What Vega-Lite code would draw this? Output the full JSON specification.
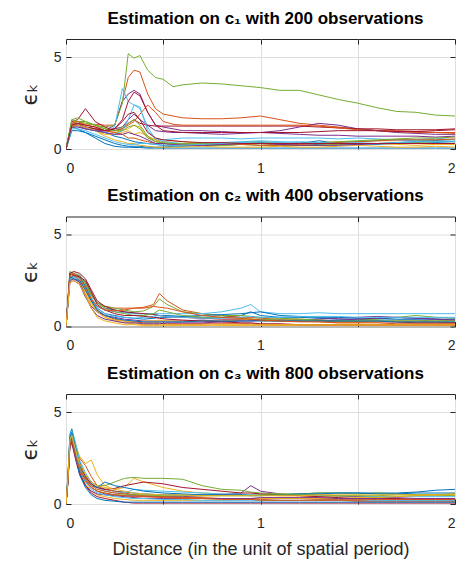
{
"$schema": "https://vega.github.io/schema/vega-lite/v6.json",
"padding": {"left": 18, "top": 9, "right": 0, "bottom": 0},
"config": {
  "font": "Liberation Sans",
  "view": {"stroke": "#262626", "strokeWidth": 1},
  "axis": {"labelFontSize": 14, "labelColor": "#262626", "tickColor": "#262626", "tickSize": -5, "domain": false, "gridColor": "#dedede", "gridOpacity": 1, "labelPadding": 10, "titleColor": "#262626", "titleFontWeight": "normal", "labelFont": "Liberation Sans"},
  "axisX": {"labelPadding": 17},
  "title": {"fontSize": 17, "fontWeight": "bold", "color": "#000000", "offset": 11, "frame": "group", "anchor": "middle", "dx": 5, "font": "Liberation Sans"}
},
"spacing": 67.5,
"bounds": "flush",
"datasets": {
"p1": [
{"s":"s01","x":[0,0.03,0.06,0.1,0.15,0.2,0.25,0.29,0.32,0.35,0.38,0.42,0.46,0.5,0.55,0.6,0.7,0.8,0.9,1,1.1,1.2,1.3,1.4,1.5,1.6,1.7,1.8,1.9,2],"y":[0,1.3,1.3,1.2,1.1,0.9,0.7,0.6,0.5,0.4,0.35,0.3,0.25,0.2,0.2,0.25,0.3,0.2,0.25,0.3,0.25,0.2,0.25,0.3,0.3,0.25,0.3,0.3,0.35,0.3]},
{"s":"s02","x":[0,0.03,0.06,0.1,0.15,0.2,0.25,0.29,0.32,0.35,0.38,0.42,0.46,0.5,0.55,0.6,0.7,0.8,0.9,1,1.1,1.2,1.3,1.4,1.5,1.6,1.7,1.8,1.9,2],"y":[0,1.4,1.4,1.3,1.35,1.3,1.3,2.6,3.9,4.3,4.2,3.0,2.2,1.9,1.8,1.7,1.65,1.65,1.7,1.8,1.6,1.4,1.3,1.2,1.1,1.0,1.0,0.95,0.9,0.9]},
{"s":"s03","x":[0,0.03,0.06,0.1,0.15,0.2,0.25,0.29,0.32,0.35,0.38,0.42,0.46,0.5,0.55,0.6,0.7,0.8,0.9,1,1.1,1.2,1.3,1.4,1.5,1.6,1.7,1.8,1.9,2],"y":[0,1.5,1.5,1.4,1.3,1.0,0.9,1.0,1.1,1.3,1.2,0.6,0.5,0.4,0.45,0.4,0.3,0.3,0.35,0.3,0.3,0.35,0.3,0.4,0.4,0.45,0.45,0.5,0.5,0.5]},
{"s":"s04","x":[0,0.03,0.06,0.1,0.15,0.2,0.25,0.29,0.32,0.35,0.38,0.42,0.46,0.5,0.55,0.6,0.7,0.8,0.9,1,1.1,1.2,1.3,1.4,1.5,1.6,1.7,1.8,1.9,2],"y":[0,1.3,1.4,1.2,1.1,1.0,1.3,2.6,3.0,3.2,3.0,2.0,1.3,1.2,1.1,1.0,1.0,0.95,0.9,0.9,1.0,1.2,1.4,1.3,1.1,1.0,0.9,0.85,0.8,0.8]},
{"s":"s05","x":[0,0.03,0.06,0.1,0.15,0.2,0.25,0.29,0.32,0.35,0.38,0.42,0.46,0.5,0.55,0.6,0.7,0.8,0.9,1,1.1,1.2,1.3,1.4,1.5,1.6,1.7,1.8,1.9,2],"y":[0,1.4,1.5,1.5,1.3,1.2,1.3,2.5,5.2,4.95,5.1,4.3,3.9,3.8,3.4,3.5,3.6,3.55,3.45,3.35,3.2,3.2,2.95,2.7,2.5,2.25,2.05,2.0,1.85,1.8]},
{"s":"s06","x":[0,0.03,0.06,0.1,0.15,0.2,0.25,0.29,0.32,0.35,0.38,0.42,0.46,0.5,0.55,0.6,0.7,0.8,0.9,1,1.1,1.2,1.3,1.4,1.5,1.6,1.7,1.8,1.9,2],"y":[0,1.3,1.2,1.1,1.0,0.9,1.2,3.3,2.6,2.4,2.2,1.2,0.5,0.5,0.55,0.6,0.6,0.6,0.55,0.6,0.6,0.6,0.6,0.55,0.6,0.55,0.5,0.5,0.6,0.5]},
{"s":"s07","x":[0,0.03,0.06,0.1,0.15,0.2,0.25,0.29,0.32,0.35,0.38,0.42,0.46,0.5,0.55,0.6,0.7,0.8,0.9,1,1.1,1.2,1.3,1.4,1.5,1.6,1.7,1.8,1.9,2],"y":[0,1.5,1.6,2.2,1.5,1.2,1.0,1.1,1.4,1.6,1.4,1.3,1.25,1.25,1.25,1.25,1.25,1.25,1.25,1.25,1.25,1.25,1.2,1.15,1.1,1.1,1.05,1.05,1.05,1.1]},
{"s":"s08","x":[0,0.03,0.06,0.1,0.15,0.2,0.25,0.29,0.32,0.35,0.38,0.42,0.46,0.5,0.55,0.6,0.7,0.8,0.9,1,1.1,1.2,1.3,1.4,1.5,1.6,1.7,1.8,1.9,2],"y":[0,1.2,1.1,0.9,0.6,0.3,0.15,0.1,0.1,0.08,0.08,0.05,0.05,0.05,0.05,0.05,0.05,0.05,0.05,0.05,0.05,0.05,0.05,0.05,0.05,0.05,0.05,0.05,0.05,0.05]},
{"s":"s09","x":[0,0.03,0.06,0.1,0.15,0.2,0.25,0.29,0.32,0.35,0.38,0.42,0.46,0.5,0.55,0.6,0.7,0.8,0.9,1,1.1,1.2,1.3,1.4,1.5,1.6,1.7,1.8,1.9,2],"y":[0,1.3,1.4,1.2,1.1,1.0,1.0,1.1,1.3,1.5,1.9,2.4,2.0,1.5,1.35,1.3,1.3,1.3,1.3,1.3,1.3,1.3,1.25,1.15,1.05,1.0,0.95,0.9,0.9,0.85]},
{"s":"s10","x":[0,0.03,0.06,0.1,0.15,0.2,0.25,0.29,0.32,0.35,0.38,0.42,0.46,0.5,0.55,0.6,0.7,0.8,0.9,1,1.1,1.2,1.3,1.4,1.5,1.6,1.7,1.8,1.9,2],"y":[0,1.2,1.3,1.2,1.0,0.8,0.8,0.9,1.0,0.8,0.9,0.7,0.5,0.3,0.25,0.2,0.2,0.2,0.25,0.3,0.2,0.2,0.2,0.25,0.3,0.3,0.25,0.2,0.25,0.25]},
{"s":"s11","x":[0,0.03,0.06,0.1,0.15,0.2,0.25,0.29,0.32,0.35,0.38,0.42,0.46,0.5,0.55,0.6,0.7,0.8,0.9,1,1.1,1.2,1.3,1.4,1.5,1.6,1.7,1.8,1.9,2],"y":[0,1.3,1.3,1.1,1.0,1.0,1.1,1.2,1.6,1.9,1.6,1.3,1.0,0.95,0.9,0.9,0.85,0.8,0.85,0.9,0.85,0.8,0.75,0.75,0.7,0.7,0.7,0.7,0.65,0.7]},
{"s":"s12","x":[0,0.03,0.06,0.1,0.15,0.2,0.25,0.29,0.32,0.35,0.38,0.42,0.46,0.5,0.55,0.6,0.7,0.8,0.9,1,1.1,1.2,1.3,1.4,1.5,1.6,1.7,1.8,1.9,2],"y":[0,1.6,1.5,1.4,1.3,1.1,1.0,1.2,1.4,1.6,1.3,0.7,0.4,0.3,0.3,0.25,0.2,0.2,0.25,0.2,0.2,0.2,0.2,0.25,0.3,0.3,0.3,0.35,0.4,0.4]},
{"s":"s13","x":[0,0.03,0.06,0.1,0.15,0.2,0.25,0.29,0.32,0.35,0.38,0.42,0.46,0.5,0.55,0.6,0.7,0.8,0.9,1,1.1,1.2,1.3,1.4,1.5,1.6,1.7,1.8,1.9,2],"y":[0,1.4,1.3,1.2,1.0,0.9,0.8,1.0,1.6,2.4,2.3,1.0,0.6,0.4,0.35,0.3,0.3,0.35,0.4,0.45,0.4,0.35,0.3,0.35,0.4,0.45,0.5,0.45,0.5,0.5]},
{"s":"s14","x":[0,0.03,0.06,0.1,0.15,0.2,0.25,0.29,0.32,0.35,0.38,0.42,0.46,0.5,0.55,0.6,0.7,0.8,0.9,1,1.1,1.2,1.3,1.4,1.5,1.6,1.7,1.8,1.9,2],"y":[0,1.3,1.3,1.2,1.1,1.0,1.1,1.6,2.6,3.1,2.9,2.0,1.3,1.0,0.95,0.9,0.9,0.9,0.9,0.9,0.9,0.9,0.95,1.0,1.0,1.0,0.95,0.95,1.0,1.05]},
{"s":"s15","x":[0,0.03,0.06,0.1,0.15,0.2,0.25,0.29,0.32,0.35,0.38,0.42,0.46,0.5,0.55,0.6,0.7,0.8,0.9,1,1.1,1.2,1.3,1.4,1.5,1.6,1.7,1.8,1.9,2],"y":[0,1.0,1.0,0.9,0.7,0.5,0.3,0.2,0.15,0.15,0.15,0.1,0.1,0.1,0.15,0.15,0.2,0.25,0.3,0.35,0.3,0.3,0.45,0.3,0.25,0.3,0.35,0.4,0.45,0.4]},
{"s":"s16","x":[0,0.03,0.06,0.1,0.15,0.2,0.25,0.29,0.32,0.35,0.38,0.42,0.46,0.5,0.55,0.6,0.7,0.8,0.9,1,1.1,1.2,1.3,1.4,1.5,1.6,1.7,1.8,1.9,2],"y":[0,1.4,1.5,1.3,1.2,1.0,0.9,0.8,0.6,0.6,0.5,0.4,0.3,0.3,0.25,0.2,0.2,0.3,0.25,0.2,0.2,0.25,0.3,0.35,0.4,0.45,0.5,0.5,0.5,0.55]},
{"s":"s17","x":[0,0.03,0.06,0.1,0.15,0.2,0.25,0.29,0.32,0.35,0.38,0.42,0.46,0.5,0.55,0.6,0.7,0.8,0.9,1,1.1,1.2,1.3,1.4,1.5,1.6,1.7,1.8,1.9,2],"y":[0,1.3,1.3,1.2,1.0,0.7,0.5,0.4,0.3,0.3,0.2,0.15,0.1,0.1,0.1,0.1,0.15,0.1,0.1,0.1,0.15,0.1,0.1,0.15,0.2,0.15,0.1,0.1,0.15,0.1]},
{"s":"s18","x":[0,0.03,0.06,0.1,0.15,0.2,0.25,0.29,0.32,0.35,0.38,0.42,0.46,0.5,0.55,0.6,0.7,0.8,0.9,1,1.1,1.2,1.3,1.4,1.5,1.6,1.7,1.8,1.9,2],"y":[0,1.2,1.2,1.1,1.0,0.9,0.8,0.8,0.9,0.8,0.7,0.5,0.3,0.3,0.25,0.2,0.2,0.25,0.3,0.3,0.25,0.2,0.2,0.2,0.25,0.3,0.3,0.3,0.3,0.3]},
{"s":"s19","x":[0,0.03,0.06,0.1,0.15,0.2,0.25,0.29,0.32,0.35,0.38,0.42,0.46,0.5,0.55,0.6,0.7,0.8,0.9,1,1.1,1.2,1.3,1.4,1.5,1.6,1.7,1.8,1.9,2],"y":[0,1.6,1.7,1.5,1.3,1.1,1.0,1.0,1.2,1.3,1.1,0.6,0.4,0.35,0.3,0.3,0.3,0.3,0.35,0.4,0.3,0.3,0.35,0.4,0.45,0.5,0.55,0.6,0.6,0.65]},
{"s":"s20","x":[0,0.03,0.06,0.1,0.15,0.2,0.25,0.29,0.32,0.35,0.38,0.42,0.46,0.5,0.55,0.6,0.7,0.8,0.9,1,1.1,1.2,1.3,1.4,1.5,1.6,1.7,1.8,1.9,2],"y":[0,1.1,1.1,1.0,0.8,0.6,0.4,0.3,0.25,0.25,0.3,0.3,0.25,0.2,0.2,0.2,0.25,0.3,0.35,0.4,0.35,0.4,0.35,0.3,0.35,0.3,0.35,0.4,0.4,0.4]},
{"s":"s21","x":[0,0.03,0.06,0.1,0.15,0.2,0.25,0.29,0.32,0.35,0.38,0.42,0.46,0.5,0.55,0.6,0.7,0.8,0.9,1,1.1,1.2,1.3,1.4,1.5,1.6,1.7,1.8,1.9,2],"y":[0,1.3,1.4,1.3,1.2,1.0,1.1,1.5,1.9,2.0,1.6,0.9,0.6,0.5,0.45,0.4,0.35,0.35,0.3,0.3,0.3,0.3,0.3,0.3,0.3,0.3,0.3,0.3,0.3,0.3]}
],
"p2": [
{"s":"s01","x":[0,0.02,0.04,0.07,0.1,0.13,0.16,0.2,0.25,0.3,0.35,0.4,0.45,0.48,0.52,0.6,0.7,0.8,0.9,0.95,1,1.1,1.2,1.3,1.4,1.5,1.6,1.7,1.8,1.9,2],"y":[0,2.6,2.7,2.8,2.4,1.8,1.3,1.0,0.9,0.8,0.7,0.7,0.65,0.6,0.6,0.55,0.5,0.5,0.6,0.8,0.6,0.5,0.5,0.45,0.4,0.4,0.35,0.35,0.35,0.3,0.35]},
{"s":"s02","x":[0,0.02,0.04,0.07,0.1,0.13,0.16,0.2,0.25,0.3,0.35,0.4,0.45,0.48,0.52,0.6,0.7,0.8,0.9,0.95,1,1.1,1.2,1.3,1.4,1.5,1.6,1.7,1.8,1.9,2],"y":[0,2.8,2.9,2.7,2.3,1.7,1.3,1.1,1.0,1.0,1.0,1.05,1.2,1.8,1.4,0.9,0.7,0.6,0.5,0.5,0.45,0.4,0.4,0.35,0.3,0.3,0.3,0.25,0.25,0.25,0.2]},
{"s":"s03","x":[0,0.02,0.04,0.07,0.1,0.13,0.16,0.2,0.25,0.3,0.35,0.4,0.45,0.48,0.52,0.6,0.7,0.8,0.9,0.95,1,1.1,1.2,1.3,1.4,1.5,1.6,1.7,1.8,1.9,2],"y":[0,2.5,2.6,2.4,1.9,1.3,0.8,0.5,0.3,0.2,0.15,0.1,0.1,0.1,0.1,0.1,0.1,0.05,0.05,0.05,0.05,0.05,0.05,0.05,0.05,0.05,0.05,0.05,0.05,0.05,0.05]},
{"s":"s04","x":[0,0.02,0.04,0.07,0.1,0.13,0.16,0.2,0.25,0.3,0.35,0.4,0.45,0.48,0.52,0.6,0.7,0.8,0.9,0.95,1,1.1,1.2,1.3,1.4,1.5,1.6,1.7,1.8,1.9,2],"y":[0,2.4,2.5,2.3,1.6,1.1,0.8,0.6,0.5,0.4,0.35,0.3,0.3,0.3,0.3,0.3,0.35,0.3,0.35,0.4,0.35,0.3,0.35,0.4,0.45,0.5,0.55,0.5,0.45,0.4,0.35]},
{"s":"s05","x":[0,0.02,0.04,0.07,0.1,0.13,0.16,0.2,0.25,0.3,0.35,0.4,0.45,0.48,0.52,0.6,0.7,0.8,0.9,0.95,1,1.1,1.2,1.3,1.4,1.5,1.6,1.7,1.8,1.9,2],"y":[0,3.0,2.9,2.8,2.4,1.8,1.3,1.1,1.0,0.9,0.8,0.85,1.1,1.5,1.2,0.8,0.7,0.6,0.6,0.55,0.5,0.45,0.4,0.35,0.3,0.35,0.4,0.5,0.6,0.5,0.45]},
{"s":"s06","x":[0,0.02,0.04,0.07,0.1,0.13,0.16,0.2,0.25,0.3,0.35,0.4,0.45,0.48,0.52,0.6,0.7,0.8,0.9,0.95,1,1.1,1.2,1.3,1.4,1.5,1.6,1.7,1.8,1.9,2],"y":[0,2.7,2.8,2.6,2.2,1.6,1.1,0.9,0.8,0.75,0.7,0.7,0.7,0.7,0.7,0.7,0.7,0.8,1.0,1.2,0.8,0.7,0.7,0.75,0.7,0.7,0.7,0.7,0.7,0.7,0.7]},
{"s":"s07","x":[0,0.02,0.04,0.07,0.1,0.13,0.16,0.2,0.25,0.3,0.35,0.4,0.45,0.48,0.52,0.6,0.7,0.8,0.9,0.95,1,1.1,1.2,1.3,1.4,1.5,1.6,1.7,1.8,1.9,2],"y":[0,2.9,3.0,2.9,2.6,2.0,1.4,1.1,0.9,0.8,0.75,0.7,0.65,0.6,0.55,0.5,0.45,0.4,0.4,0.35,0.35,0.3,0.3,0.3,0.25,0.25,0.25,0.25,0.2,0.2,0.2]},
{"s":"s08","x":[0,0.02,0.04,0.07,0.1,0.13,0.16,0.2,0.25,0.3,0.35,0.4,0.45,0.48,0.52,0.6,0.7,0.8,0.9,0.95,1,1.1,1.2,1.3,1.4,1.5,1.6,1.7,1.8,1.9,2],"y":[0,2.6,2.8,2.7,2.2,1.5,1.0,0.7,0.6,0.5,0.45,0.4,0.45,0.5,0.5,0.55,0.6,0.65,0.7,0.75,0.8,0.6,0.55,0.5,0.5,0.45,0.45,0.4,0.4,0.4,0.4]},
{"s":"s09","x":[0,0.02,0.04,0.07,0.1,0.13,0.16,0.2,0.25,0.3,0.35,0.4,0.45,0.48,0.52,0.6,0.7,0.8,0.9,0.95,1,1.1,1.2,1.3,1.4,1.5,1.6,1.7,1.8,1.9,2],"y":[0,2.7,2.8,2.5,2.0,1.4,0.9,0.6,0.4,0.3,0.25,0.2,0.2,0.2,0.15,0.15,0.15,0.15,0.15,0.15,0.1,0.1,0.1,0.1,0.1,0.1,0.1,0.1,0.1,0.1,0.1]},
{"s":"s10","x":[0,0.02,0.04,0.07,0.1,0.13,0.16,0.2,0.25,0.3,0.35,0.4,0.45,0.48,0.52,0.6,0.7,0.8,0.9,0.95,1,1.1,1.2,1.3,1.4,1.5,1.6,1.7,1.8,1.9,2],"y":[0,2.6,2.7,2.4,1.8,1.2,0.8,0.5,0.35,0.3,0.25,0.3,0.3,0.35,0.3,0.3,0.3,0.3,0.35,0.4,0.3,0.3,0.3,0.25,0.2,0.2,0.25,0.3,0.3,0.3,0.3]},
{"s":"s11","x":[0,0.02,0.04,0.07,0.1,0.13,0.16,0.2,0.25,0.3,0.35,0.4,0.45,0.48,0.52,0.6,0.7,0.8,0.9,0.95,1,1.1,1.2,1.3,1.4,1.5,1.6,1.7,1.8,1.9,2],"y":[0,2.5,2.6,2.4,1.7,1.0,0.6,0.4,0.3,0.2,0.2,0.15,0.15,0.15,0.2,0.2,0.2,0.25,0.3,0.3,0.35,0.35,0.3,0.3,0.35,0.4,0.45,0.5,0.45,0.4,0.35]},
{"s":"s12","x":[0,0.02,0.04,0.07,0.1,0.13,0.16,0.2,0.25,0.3,0.35,0.4,0.45,0.48,0.52,0.6,0.7,0.8,0.9,0.95,1,1.1,1.2,1.3,1.4,1.5,1.6,1.7,1.8,1.9,2],"y":[0,2.8,2.9,2.7,2.3,1.7,1.3,1.0,0.8,0.7,0.6,0.6,0.7,0.9,0.8,0.6,0.5,0.5,0.45,0.4,0.4,0.35,0.35,0.3,0.3,0.3,0.3,0.3,0.3,0.3,0.3]},
{"s":"s13","x":[0,0.02,0.04,0.07,0.1,0.13,0.16,0.2,0.25,0.3,0.35,0.4,0.45,0.48,0.52,0.6,0.7,0.8,0.9,0.95,1,1.1,1.2,1.3,1.4,1.5,1.6,1.7,1.8,1.9,2],"y":[0,2.6,2.7,2.5,2.0,1.4,1.0,0.7,0.55,0.5,0.45,0.5,0.55,0.6,0.55,0.5,0.45,0.45,0.5,0.55,0.5,0.5,0.55,0.55,0.55,0.5,0.5,0.5,0.5,0.5,0.5]},
{"s":"s14","x":[0,0.02,0.04,0.07,0.1,0.13,0.16,0.2,0.25,0.3,0.35,0.4,0.45,0.48,0.52,0.6,0.7,0.8,0.9,0.95,1,1.1,1.2,1.3,1.4,1.5,1.6,1.7,1.8,1.9,2],"y":[0,2.9,2.8,2.7,2.5,1.9,1.2,0.9,0.7,0.6,0.6,0.55,0.5,0.45,0.4,0.35,0.3,0.25,0.2,0.2,0.15,0.15,0.1,0.1,0.1,0.1,0.1,0.1,0.1,0.1,0.1]},
{"s":"s15","x":[0,0.02,0.04,0.07,0.1,0.13,0.16,0.2,0.25,0.3,0.35,0.4,0.45,0.48,0.52,0.6,0.7,0.8,0.9,0.95,1,1.1,1.2,1.3,1.4,1.5,1.6,1.7,1.8,1.9,2],"y":[0,2.7,2.6,2.5,2.0,1.4,0.9,0.6,0.45,0.35,0.3,0.25,0.25,0.25,0.25,0.25,0.3,0.3,0.3,0.3,0.3,0.3,0.3,0.3,0.3,0.3,0.3,0.25,0.25,0.25,0.25]},
{"s":"s16","x":[0,0.02,0.04,0.07,0.1,0.13,0.16,0.2,0.25,0.3,0.35,0.4,0.45,0.48,0.52,0.6,0.7,0.8,0.9,0.95,1,1.1,1.2,1.3,1.4,1.5,1.6,1.7,1.8,1.9,2],"y":[0,2.8,2.9,2.6,2.1,1.5,1.1,0.9,0.85,0.9,1.0,1.0,1.1,1.05,1.0,0.8,0.6,0.5,0.45,0.4,0.35,0.3,0.25,0.25,0.2,0.2,0.2,0.15,0.15,0.15,0.15]},
{"s":"s17","x":[0,0.02,0.04,0.07,0.1,0.13,0.16,0.2,0.25,0.3,0.35,0.4,0.45,0.48,0.52,0.6,0.7,0.8,0.9,0.95,1,1.1,1.2,1.3,1.4,1.5,1.6,1.7,1.8,1.9,2],"y":[0,2.4,2.5,2.3,1.7,1.0,0.5,0.3,0.2,0.1,0.1,0.05,0.05,0.05,0.05,0.05,0.05,0.1,0.1,0.1,0.1,0.1,0.1,0.1,0.1,0.1,0.1,0.1,0.1,0.1,0.1]}
],
"p3": [
{"s":"s01","x":[0,0.01,0.02,0.03,0.05,0.07,0.1,0.13,0.16,0.2,0.25,0.3,0.35,0.4,0.5,0.6,0.7,0.8,0.9,0.95,1,1.1,1.2,1.3,1.4,1.5,1.6,1.7,1.8,1.9,2],"y":[0,1.5,3.8,4.1,3.2,2.3,1.5,1.1,0.9,0.8,0.7,0.65,0.6,0.55,0.5,0.5,0.5,0.5,0.5,0.5,0.5,0.5,0.55,0.6,0.6,0.6,0.6,0.6,0.65,0.75,0.8]},
{"s":"s02","x":[0,0.01,0.02,0.03,0.05,0.07,0.1,0.13,0.16,0.2,0.25,0.3,0.35,0.4,0.5,0.6,0.7,0.8,0.9,0.95,1,1.1,1.2,1.3,1.4,1.5,1.6,1.7,1.8,1.9,2],"y":[0,1.5,3.5,3.7,3.0,2.5,2.1,1.5,1.0,0.8,0.7,0.6,0.5,0.45,0.4,0.35,0.3,0.3,0.25,0.25,0.25,0.2,0.2,0.2,0.2,0.15,0.15,0.15,0.15,0.15,0.15]},
{"s":"s03","x":[0,0.01,0.02,0.03,0.05,0.07,0.1,0.13,0.16,0.2,0.25,0.3,0.35,0.4,0.5,0.6,0.7,0.8,0.9,0.95,1,1.1,1.2,1.3,1.4,1.5,1.6,1.7,1.8,1.9,2],"y":[0,1.2,3.3,3.6,3.2,2.6,2.2,2.4,1.6,1.0,0.8,0.9,1.4,1.2,0.9,0.7,0.6,0.55,0.5,0.5,0.5,0.45,0.45,0.4,0.4,0.4,0.4,0.4,0.45,0.45,0.5]},
{"s":"s04","x":[0,0.01,0.02,0.03,0.05,0.07,0.1,0.13,0.16,0.2,0.25,0.3,0.35,0.4,0.5,0.6,0.7,0.8,0.9,0.95,1,1.1,1.2,1.3,1.4,1.5,1.6,1.7,1.8,1.9,2],"y":[0,1.3,3.4,3.5,2.6,1.8,1.2,0.9,0.7,0.55,0.5,0.45,0.45,0.4,0.4,0.4,0.45,0.5,0.6,1.0,0.7,0.55,0.5,0.5,0.45,0.4,0.35,0.35,0.3,0.3,0.3]},
{"s":"s05","x":[0,0.01,0.02,0.03,0.05,0.07,0.1,0.13,0.16,0.2,0.25,0.3,0.35,0.4,0.5,0.6,0.7,0.8,0.9,0.95,1,1.1,1.2,1.3,1.4,1.5,1.6,1.7,1.8,1.9,2],"y":[0,1.4,3.6,3.8,3.1,2.2,1.6,1.2,1.0,1.0,1.2,1.4,1.45,1.4,1.4,1.35,1.0,0.8,0.75,0.65,0.6,0.55,0.55,0.6,0.6,0.55,0.6,0.55,0.5,0.5,0.45]},
{"s":"s06","x":[0,0.01,0.02,0.03,0.05,0.07,0.1,0.13,0.16,0.2,0.25,0.3,0.35,0.4,0.5,0.6,0.7,0.8,0.9,0.95,1,1.1,1.2,1.3,1.4,1.5,1.6,1.7,1.8,1.9,2],"y":[0,1.5,3.7,4.0,3.3,2.4,1.7,1.2,0.9,0.7,0.6,0.6,0.8,0.75,0.7,0.65,0.6,0.55,0.55,0.5,0.5,0.5,0.5,0.45,0.45,0.45,0.4,0.4,0.4,0.4,0.4]},
{"s":"s07","x":[0,0.01,0.02,0.03,0.05,0.07,0.1,0.13,0.16,0.2,0.25,0.3,0.35,0.4,0.5,0.6,0.7,0.8,0.9,0.95,1,1.1,1.2,1.3,1.4,1.5,1.6,1.7,1.8,1.9,2],"y":[0,1.3,3.4,3.6,2.8,2.2,1.5,1.1,0.9,0.8,0.85,1.0,1.1,1.2,1.1,0.9,0.8,0.7,0.6,0.6,0.55,0.5,0.45,0.4,0.35,0.3,0.3,0.3,0.25,0.25,0.2]},
{"s":"s08","x":[0,0.01,0.02,0.03,0.05,0.07,0.1,0.13,0.16,0.2,0.25,0.3,0.35,0.4,0.5,0.6,0.7,0.8,0.9,0.95,1,1.1,1.2,1.3,1.4,1.5,1.6,1.7,1.8,1.9,2],"y":[0,1.4,3.6,3.9,3.0,2.1,1.4,1.0,0.9,1.2,1.0,0.9,0.8,0.7,0.6,0.55,0.5,0.5,0.5,0.45,0.45,0.5,0.55,0.55,0.6,0.6,0.55,0.55,0.6,0.6,0.6]},
{"s":"s09","x":[0,0.01,0.02,0.03,0.05,0.07,0.1,0.13,0.16,0.2,0.25,0.3,0.35,0.4,0.5,0.6,0.7,0.8,0.9,0.95,1,1.1,1.2,1.3,1.4,1.5,1.6,1.7,1.8,1.9,2],"y":[0,1.2,3.2,3.5,2.7,2.0,1.4,1.0,0.8,0.7,0.6,0.55,0.5,0.45,0.4,0.35,0.35,0.3,0.3,0.3,0.3,0.3,0.3,0.25,0.25,0.25,0.2,0.2,0.2,0.2,0.2]},
{"s":"s10","x":[0,0.01,0.02,0.03,0.05,0.07,0.1,0.13,0.16,0.2,0.25,0.3,0.35,0.4,0.5,0.6,0.7,0.8,0.9,0.95,1,1.1,1.2,1.3,1.4,1.5,1.6,1.7,1.8,1.9,2],"y":[0,1.3,3.3,3.5,2.5,1.7,1.1,0.7,0.5,0.4,0.3,0.25,0.2,0.2,0.2,0.2,0.2,0.2,0.25,0.25,0.3,0.3,0.3,0.3,0.3,0.35,0.35,0.4,0.45,0.5,0.55]},
{"s":"s11","x":[0,0.01,0.02,0.03,0.05,0.07,0.1,0.13,0.16,0.2,0.25,0.3,0.35,0.4,0.5,0.6,0.7,0.8,0.9,0.95,1,1.1,1.2,1.3,1.4,1.5,1.6,1.7,1.8,1.9,2],"y":[0,1.2,3.1,3.3,2.4,1.6,1.0,0.7,0.55,0.5,0.45,0.4,0.35,0.3,0.3,0.3,0.3,0.3,0.3,0.3,0.35,0.35,0.35,0.35,0.3,0.3,0.3,0.25,0.25,0.25,0.25]},
{"s":"s12","x":[0,0.01,0.02,0.03,0.05,0.07,0.1,0.13,0.16,0.2,0.25,0.3,0.35,0.4,0.5,0.6,0.7,0.8,0.9,0.95,1,1.1,1.2,1.3,1.4,1.5,1.6,1.7,1.8,1.9,2],"y":[0,1.4,3.5,3.8,2.9,2.0,1.3,0.9,0.7,0.6,0.5,0.5,0.5,0.5,0.45,0.45,0.45,0.45,0.45,0.45,0.5,0.5,0.5,0.5,0.45,0.45,0.45,0.5,0.5,0.5,0.55]},
{"s":"s13","x":[0,0.01,0.02,0.03,0.05,0.07,0.1,0.13,0.16,0.2,0.25,0.3,0.35,0.4,0.5,0.6,0.7,0.8,0.9,0.95,1,1.1,1.2,1.3,1.4,1.5,1.6,1.7,1.8,1.9,2],"y":[0,1.3,3.4,3.7,2.8,1.9,1.2,0.8,0.6,0.5,0.4,0.35,0.3,0.3,0.25,0.25,0.2,0.2,0.2,0.2,0.2,0.2,0.2,0.2,0.2,0.2,0.2,0.2,0.2,0.2,0.2]},
{"s":"s14","x":[0,0.01,0.02,0.03,0.05,0.07,0.1,0.13,0.16,0.2,0.25,0.3,0.35,0.4,0.5,0.6,0.7,0.8,0.9,0.95,1,1.1,1.2,1.3,1.4,1.5,1.6,1.7,1.8,1.9,2],"y":[0,1.2,3.2,3.4,2.5,1.7,1.0,0.6,0.4,0.3,0.2,0.1,0.05,0.05,0.05,0.05,0.05,0.05,0.05,0.05,0.05,0.05,0.05,0.05,0.05,0.05,0.05,0.05,0.05,0.05,0.05]},
{"s":"s15","x":[0,0.01,0.02,0.03,0.05,0.07,0.1,0.13,0.16,0.2,0.25,0.3,0.35,0.4,0.5,0.6,0.7,0.8,0.9,0.95,1,1.1,1.2,1.3,1.4,1.5,1.6,1.7,1.8,1.9,2],"y":[0,1.3,3.4,3.6,2.6,1.6,0.9,0.5,0.3,0.2,0.15,0.1,0.1,0.1,0.1,0.1,0.1,0.1,0.1,0.1,0.1,0.1,0.1,0.1,0.1,0.1,0.1,0.1,0.1,0.1,0.1]},
{"s":"s16","x":[0,0.01,0.02,0.03,0.05,0.07,0.1,0.13,0.16,0.2,0.25,0.3,0.35,0.4,0.5,0.6,0.7,0.8,0.9,0.95,1,1.1,1.2,1.3,1.4,1.5,1.6,1.7,1.8,1.9,2],"y":[0,1.3,3.3,3.5,2.6,1.9,1.3,0.9,0.7,0.6,0.5,0.45,0.4,0.4,0.35,0.3,0.3,0.25,0.25,0.25,0.2,0.2,0.2,0.2,0.2,0.2,0.25,0.25,0.25,0.25,0.25]},
{"s":"s17","x":[0,0.01,0.02,0.03,0.05,0.07,0.1,0.13,0.16,0.2,0.25,0.3,0.35,0.4,0.5,0.6,0.7,0.8,0.9,0.95,1,1.1,1.2,1.3,1.4,1.5,1.6,1.7,1.8,1.9,2],"y":[0,1.4,3.5,3.7,2.9,2.2,1.6,1.2,1.0,0.9,0.8,0.7,0.6,0.55,0.5,0.5,0.45,0.45,0.45,0.45,0.45,0.45,0.45,0.5,0.5,0.5,0.5,0.5,0.5,0.5,0.5]}
]
},
"vconcat": [
{
 "title": {"text": "Estimation on c₁ with 200 observations"},
 "width": 389, "height": 110,
 "data": {"name": "p1"},
 "transform": [{"flatten": ["x", "y"]}],
 "layer": [
  {"mark": {"type": "line", "strokeWidth": 1, "clip": true},
   "encoding": {
    "x": {"field": "x", "type": "quantitative", "scale": {"domain": [0, 2], "nice": false}, "axis": {"values": [0, 0.5, 1, 1.5, 2], "labelExpr": "datum.value % 1 === 0 ? '' + datum.value : ''", "title": null}},
    "y": {"field": "y", "type": "quantitative", "scale": {"domain": [0, 6], "nice": false}, "axis": {"values": [0, 5], "title": "ϵₖ", "titleFont": "DejaVu Sans", "titleFontSize": 21, "titlePadding": 13, "titleFontWeight": "normal"}},
    "color": {"field": "s", "type": "nominal", "legend": null, "scale": {"range": ["#0072BD", "#D95319", "#EDB120", "#7E2F8E", "#77AC30", "#4DBEEE", "#A2142F"]}}
   }},
  {"mark": {"type": "line", "opacity": 0},
   "encoding": {
    "x": {"field": "x", "type": "quantitative", "axis": {"orient": "top", "values": [0, 0.5, 1, 1.5, 2], "labels": false, "grid": false, "title": null}},
    "y": {"field": "y", "type": "quantitative", "axis": {"orient": "right", "values": [0, 5], "labels": false, "grid": false, "title": null}}
   }}
 ],
 "resolve": {"axis": {"x": "independent", "y": "independent"}}
},
{
 "title": {"text": "Estimation on c₂ with 400 observations"},
 "width": 389, "height": 110,
 "data": {"name": "p2"},
 "transform": [{"flatten": ["x", "y"]}],
 "layer": [
  {"mark": {"type": "line", "strokeWidth": 1, "clip": true},
   "encoding": {
    "x": {"field": "x", "type": "quantitative", "scale": {"domain": [0, 2], "nice": false}, "axis": {"values": [0, 0.5, 1, 1.5, 2], "labelExpr": "datum.value % 1 === 0 ? '' + datum.value : ''", "title": null}},
    "y": {"field": "y", "type": "quantitative", "scale": {"domain": [0, 6], "nice": false}, "axis": {"values": [0, 5], "title": "ϵₖ", "titleFont": "DejaVu Sans", "titleFontSize": 21, "titlePadding": 13, "titleFontWeight": "normal"}},
    "color": {"field": "s", "type": "nominal", "legend": null, "scale": {"range": ["#0072BD", "#D95319", "#EDB120", "#7E2F8E", "#77AC30", "#4DBEEE", "#A2142F"]}}
   }},
  {"mark": {"type": "line", "opacity": 0},
   "encoding": {
    "x": {"field": "x", "type": "quantitative", "axis": {"orient": "top", "values": [0, 0.5, 1, 1.5, 2], "labels": false, "grid": false, "title": null}},
    "y": {"field": "y", "type": "quantitative", "axis": {"orient": "right", "values": [0, 5], "labels": false, "grid": false, "title": null}}
   }}
 ],
 "resolve": {"axis": {"x": "independent", "y": "independent"}}
},
{
 "title": {"text": "Estimation on c₃ with 800 observations"},
 "width": 389, "height": 110,
 "data": {"name": "p3"},
 "transform": [{"flatten": ["x", "y"]}],
 "layer": [
  {"mark": {"type": "line", "strokeWidth": 1, "clip": true},
   "encoding": {
    "x": {"field": "x", "type": "quantitative", "scale": {"domain": [0, 2], "nice": false}, "axis": {"values": [0, 0.5, 1, 1.5, 2], "labelExpr": "datum.value % 1 === 0 ? '' + datum.value : ''", "title": "Distance (in the unit of spatial period)", "titleFontSize": 18, "titlePadding": 10, "titleFont": "Liberation Sans"}},
    "y": {"field": "y", "type": "quantitative", "scale": {"domain": [0, 6], "nice": false}, "axis": {"values": [0, 5], "title": "ϵₖ", "titleFont": "DejaVu Sans", "titleFontSize": 21, "titlePadding": 13, "titleFontWeight": "normal"}},
    "color": {"field": "s", "type": "nominal", "legend": null, "scale": {"range": ["#0072BD", "#D95319", "#EDB120", "#7E2F8E", "#77AC30", "#4DBEEE", "#A2142F"]}}
   }},
  {"mark": {"type": "line", "opacity": 0},
   "encoding": {
    "x": {"field": "x", "type": "quantitative", "axis": {"orient": "top", "values": [0, 0.5, 1, 1.5, 2], "labels": false, "grid": false, "title": null}},
    "y": {"field": "y", "type": "quantitative", "axis": {"orient": "right", "values": [0, 5], "labels": false, "grid": false, "title": null}}
   }}
 ],
 "resolve": {"axis": {"x": "independent", "y": "independent"}}
}
]
}
